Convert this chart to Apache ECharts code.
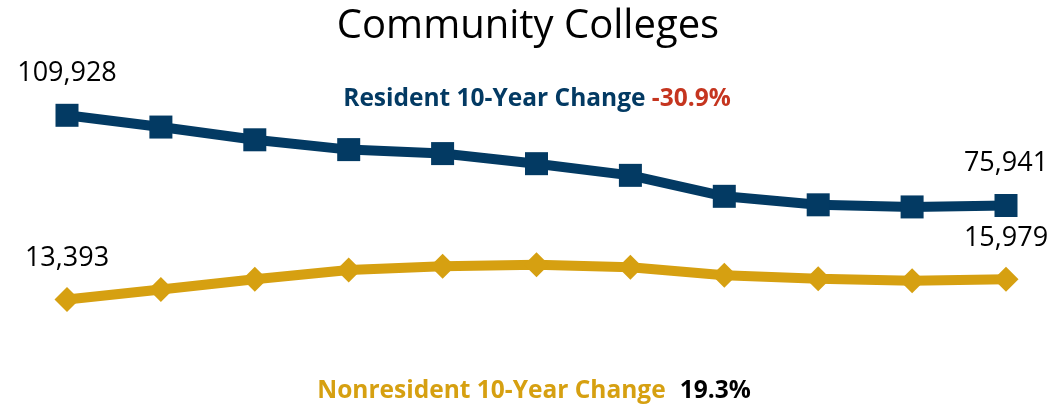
<!DOCTYPE html>
<html>
<head>
    <meta charset="utf-8">
    <title>Community Colleges</title>
    <script src="https://cdn.jsdelivr.net/npm/echarts@6/dist/echarts.min.js"></script>
    <style>
        html, body { margin: 0; padding: 0; background: #fff; }
        #chart { width: 1056px; height: 406px; }
    </style>
</head>
<body>
<div id="chart"></div>
<script>
    // 11 points = 10-year span (year labels are not shown on the chart)
    var years = ['Y0', 'Y1', 'Y2', 'Y3', 'Y4', 'Y5', 'Y6', 'Y7', 'Y8', 'Y9', 'Y10'];
    var resident = [109928, 105500, 100700, 97000, 95500, 91700, 87300, 79400, 76200, 75400, 75941];
    var nonresident = [13393, 14670, 15970, 17150, 17620, 17810, 17510, 16480, 16030, 15780, 15979];

    var navy = '#033a63';
    var gold = '#d6a011';
    var font = 'Open Sans';

    function pctChange(arr) {
        var v = (arr[arr.length - 1] / arr[0] - 1) * 100;
        return v.toFixed(1) + '%';
    }

    // only the first and last points carry a value label
    function endLabel(p) {
        var last = years.length - 1;
        if (p.dataIndex === 0 || p.dataIndex === last) {
            return p.value.toLocaleString('en-US');
        }
        return '';
    }

    var myChart = echarts.init(document.getElementById('chart'));
    var option = {
        animation: false,
        title: {
            text: 'Community Colleges',
            left: 'center',
            top: 2,
            textStyle: { fontFamily: font, fontSize: 40, fontWeight: 'normal', color: '#000' }
        },
        graphic: [
            {
                type: 'text',
                x: 537, y: 99,
                style: {
                    text: '{a|Resident 10-Year Change }{b|' + pctChange(resident) + '}',
                    align: 'center',
                    verticalAlign: 'middle',
                    rich: {
                        a: { fontFamily: font, fontSize: 24.5, fontWeight: 'bold', fill: navy },
                        b: { fontFamily: font, fontSize: 24.5, fontWeight: 'bold', fill: '#c5351f' }
                    }
                }
            },
            {
                type: 'text',
                x: 534, y: 391,
                style: {
                    text: '{a|Nonresident 10-Year Change}{s| }{b|' + pctChange(nonresident) + '}',
                    align: 'center',
                    verticalAlign: 'middle',
                    rich: {
                        a: { fontFamily: font, fontSize: 24.5, fontWeight: 'bold', fill: gold },
                        s: { fontFamily: font, fontSize: 24.5, width: 14 },
                        b: { fontFamily: font, fontSize: 24.5, fontWeight: 'bold', fill: '#000' }
                    }
                }
            }
        ],
        grid: { left: 67, right: 50, top: 100, bottom: 86 },
        xAxis: {
            type: 'category',
            data: years,
            boundaryGap: false,
            show: false
        },
        yAxis: [
            { type: 'value', min: 32797, max: 115693, show: false },
            { type: 'value', min: 10781, max: 38809, show: false }
        ],
        series: [
            {
                name: 'Resident',
                type: 'line',
                yAxisIndex: 0,
                data: resident,
                symbol: 'rect',
                symbolSize: 23,
                lineStyle: { color: navy, width: 10 },
                itemStyle: { color: navy },
                label: {
                    show: true,
                    position: 'top',
                    distance: 17,
                    formatter: endLabel,
                    fontFamily: font,
                    fontSize: 27,
                    color: '#000'
                }
            },
            {
                name: 'Nonresident',
                type: 'line',
                yAxisIndex: 1,
                data: nonresident,
                symbol: 'diamond',
                symbolSize: 25,
                lineStyle: { color: gold, width: 10 },
                itemStyle: { color: gold },
                label: {
                    show: true,
                    position: 'top',
                    distance: 15,
                    formatter: endLabel,
                    fontFamily: font,
                    fontSize: 27,
                    color: '#000'
                }
            }
        ]
    };
    myChart.setOption(option);
</script>
</body>
</html>
